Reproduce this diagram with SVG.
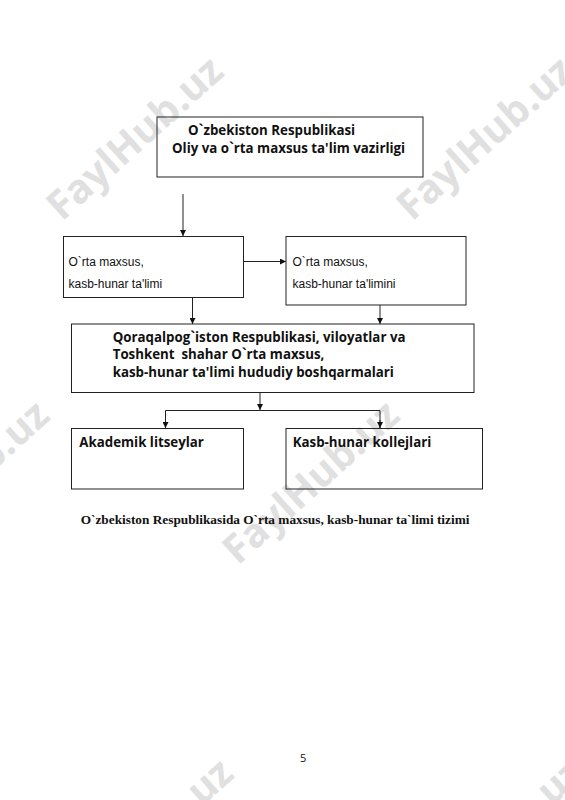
<svg xmlns="http://www.w3.org/2000/svg" width="565" height="800" viewBox="0 0 565 800">
<style>
.wm{font-family:"Open Sans","Noto Sans",sans-serif;font-weight:bold;font-size:40px;fill:#e0e0e0}
.box{fill:none;stroke:#222;stroke-width:1}
.b{font-family:"Open Sans","Noto Sans",sans-serif;font-weight:bold;font-size:13.3px;fill:#111}
.r{font-family:"Liberation Sans",Arial,sans-serif;font-size:12px;fill:#111}
.cap{font-family:"Liberation Serif","Times New Roman",serif;font-weight:bold;font-size:13.3px;fill:#111}
.pg{font-family:"Open Sans","Noto Sans",sans-serif;font-size:11px;fill:#111}
.c{fill:none;stroke:#222;stroke-width:1}
</style>
<defs>
<marker id="ah" markerUnits="userSpaceOnUse" markerWidth="6" markerHeight="6" refX="6" refY="3" orient="auto">
<path d="M0,0 L6,3 L0,6 z" fill="#111"/>
</marker>
</defs>
<rect width="565" height="800" fill="#fff"/>
<g id="watermarks">
<text class="wm" transform="translate(62,222) rotate(-42)">FaylHub.uz</text>
<text class="wm" transform="translate(412,222) rotate(-42)">FaylHub.uz</text>
<text class="wm" transform="translate(238,566) rotate(-42)">FaylHub.uz</text>
<text class="wm" transform="translate(-112,566) rotate(-42)">FaylHub.uz</text>
<text class="wm" transform="translate(72,924) rotate(-42)">FaylHub.uz</text>
<text class="wm" transform="translate(422,924) rotate(-42)">FaylHub.uz</text>
</g>
<g id="connectors">
<line class="c" x1="183" y1="194" x2="183" y2="236" marker-end="url(#ah)"/>
<line class="c" x1="243" y1="261.5" x2="286" y2="261.5" marker-end="url(#ah)"/>
<line class="c" x1="192.5" y1="297" x2="192.5" y2="324" marker-end="url(#ah)"/>
<line class="c" x1="380" y1="305" x2="380" y2="324" marker-end="url(#ah)"/>
<line class="c" x1="260" y1="392" x2="260" y2="410" marker-end="url(#ah)"/>
<polyline class="c" points="165.5,428 165.5,410.5 380,410.5 380,428"/>
<line class="c" x1="165.5" y1="420" x2="165.5" y2="428" marker-end="url(#ah)"/>
<line class="c" x1="380" y1="420" x2="380" y2="428" marker-end="url(#ah)"/>
</g>
<g id="ministry">
<rect class="box" x="157" y="117" width="266" height="60"/>
<text class="b" x="188" y="134.5">O`zbekiston Respublikasi</text>
<text class="b" x="172" y="153.3">Oliy va o`rta maxsus ta'lim vazirligi</text>
</g>
<g id="left">
<rect class="box" x="63.5" y="236.5" width="180" height="61"/>
<text class="r" x="68.5" y="265.5">O`rta maxsus,</text>
<text class="r" x="68.5" y="288.3">kasb-hunar ta'limi</text>
</g>
<g id="right">
<rect class="box" x="286" y="236.5" width="180" height="68.5"/>
<text class="r" x="292.5" y="265.5">O`rta maxsus,</text>
<text class="r" x="292.5" y="288.3">kasb-hunar ta'limini</text>
</g>
<g id="regional">
<rect class="box" x="71.5" y="324" width="402.5" height="68.5"/>
<text class="b" x="112.7" y="341.7">Qoraqalpog`iston Respublikasi, viloyatlar va</text>
<text class="b" x="112.7" y="359.3" xml:space="preserve">Toshkent  shahar O`rta maxsus,</text>
<text class="b" x="112.7" y="377.3">kasb-hunar ta'limi hududiy boshqarmalari</text>
</g>
<g id="lyceums">
<rect class="box" x="71.5" y="428.5" width="172" height="60.5"/>
<text class="b" x="79.3" y="446.7">Akademik litseylar</text>
</g>
<g id="colleges">
<rect class="box" x="286" y="428.5" width="196.5" height="60.5"/>
<text class="b" x="292.7" y="446.7">Kasb-hunar kollejlari</text>
</g>
<text class="cap" x="80.7" y="524">O`zbekiston Respublikasida O`rta maxsus, kasb-hunar ta`limi tizimi</text>
<text class="pg" x="300" y="762">5</text>
</svg>
